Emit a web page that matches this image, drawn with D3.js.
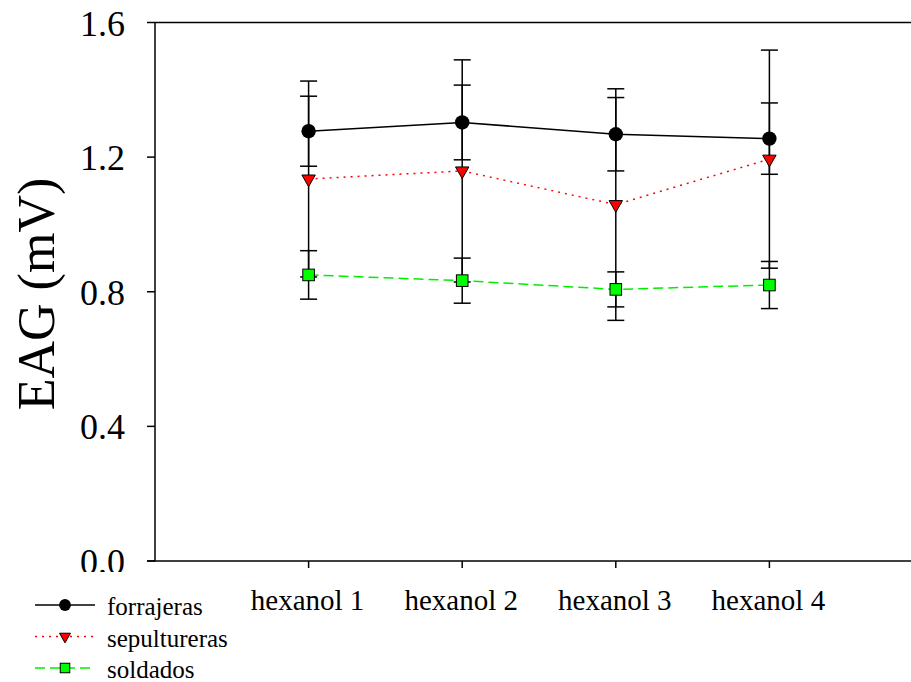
<!DOCTYPE html>
<html>
<head>
<meta charset="utf-8">
<script src="https://cdn.jsdelivr.net/npm/d3@7"></script>
<style>
  html, body { margin: 0; padding: 0; background: #fff; }
  svg { display: block; }
  svg text { font-family: "Liberation Serif", "Times New Roman", Times, Tinos, "DejaVu Serif", serif; }
</style>
</head>
<body>
<svg id="chart" width="911" height="682"></svg>
<script>
// Data
const categories = ["hexanol 1", "hexanol 2", "hexanol 3", "hexanol 4"];
const forrajeras = [1.277, 1.303, 1.268, 1.255];
const forrajerasErr = [0.104, 0.111, 0.109, 0.106];
const sepultureras = [1.135, 1.159, 1.059, 1.194];
const sepulturerasErr = [0.291, 0.330, 0.344, 0.324];
const soldados = [0.850, 0.833, 0.807, 0.820];
const soldadosErr = [0.072, 0.067, 0.052, 0.070];
const yTicks = [0.0, 0.4, 0.8, 1.2, 1.6];

const series = [
  { name: "forrajeras", values: forrajeras, err: forrajerasErr, color: "#000", dash: null, marker: "circle", fill: "#000" },
  { name: "sepultureras", values: sepultureras, err: sepulturerasErr, color: "#ff0000", dash: "2,5", marker: "triangle", fill: "#ff0000" },
  { name: "soldados", values: soldados, err: soldadosErr, color: "#00ee00", dash: "10,5", marker: "square", fill: "#00ff00" }
];

const svg = d3.select("#chart");
const plotLeft = 155, plotTop = 22.5, plotBottom = 561;

const x = d3.scaleLinear().domain([0, 5]).range([plotLeft, plotLeft + 5 * 153.6]);
const y = d3.scaleLinear().domain([0, 1.6]).range([plotBottom, plotTop]);

// clip for the y tick labels (0.0 is cut at the bottom)
svg.append("defs").append("clipPath").attr("id", "ylab-clip")
  .append("rect").attr("x", 0).attr("y", 0).attr("width", 155).attr("height", 572);

// top frame line
svg.append("line")
  .attr("x1", plotLeft).attr("x2", 911).attr("y1", plotTop).attr("y2", plotTop)
  .attr("stroke", "#000").attr("stroke-width", 1.5);

// y axis
const yAxis = svg.append("g");
yAxis.append("line")
  .attr("x1", plotLeft).attr("x2", plotLeft).attr("y1", plotTop).attr("y2", plotBottom)
  .attr("stroke", "#000").attr("stroke-width", 1.5);
yAxis.selectAll(".yt").data(yTicks).join("line")
  .attr("x1", plotLeft - 8).attr("x2", plotLeft)
  .attr("y1", d => y(d)).attr("y2", d => y(d))
  .attr("stroke", "#000").attr("stroke-width", 1.5);
yAxis.append("g").attr("clip-path", "url(#ylab-clip)")
  .selectAll("text").data(yTicks).join("text")
  .attr("x", 125).attr("y", d => y(d) + 13)
  .attr("text-anchor", "end")
  .attr("font-size", 36)
  .text(d => d.toFixed(1));

// x axis
svg.append("line")
  .attr("x1", plotLeft - 8).attr("x2", 911).attr("y1", plotBottom).attr("y2", plotBottom)
  .attr("stroke", "#000").attr("stroke-width", 1.5);
svg.selectAll(".xt").data(categories).join("line")
  .attr("x1", (d, i) => x(i + 1)).attr("x2", (d, i) => x(i + 1))
  .attr("y1", plotBottom).attr("y2", plotBottom + 7)
  .attr("stroke", "#000").attr("stroke-width", 1.5);
svg.selectAll(".xl").data(categories).join("text")
  .attr("x", (d, i) => x(i + 1) - 1).attr("y", 610)
  .attr("text-anchor", "middle")
  .attr("font-size", 29)
  .text(d => d);

// y title
svg.append("text")
  .attr("transform", "translate(54,294) rotate(-90)")
  .attr("text-anchor", "middle")
  .attr("font-size", 52)
  .text("EAG (mV)");

// markers
function drawMarker(sel, type, fill, s) {
  if (type === "circle") {
    sel.append("circle").attr("r", 7.2 * s).attr("fill", "#000");
  } else if (type === "triangle") {
    const w = 6.7 * s;
    sel.append("path")
      .attr("d", `M${-w},${-4 * s}L${w},${-4 * s}L0,${7.7 * s}Z`)
      .attr("fill", fill).attr("stroke", "#000").attr("stroke-width", 1);
  } else {
    const h = 5.8 * s;
    sel.append("rect").attr("x", -h).attr("y", -h).attr("width", 2 * h).attr("height", 2 * h)
      .attr("fill", fill).attr("stroke", "#000").attr("stroke-width", 1);
  }
}

// error bars
series.forEach(s => {
  const g = svg.append("g");
  s.values.forEach((v, i) => {
    const cx = x(i + 1);
    const hi = y(v + s.err[i]), lo = y(v - s.err[i]);
    g.append("line").attr("x1", cx).attr("x2", cx).attr("y1", hi).attr("y2", lo)
      .attr("stroke", "#000").attr("stroke-width", 1.5);
    [hi, lo].forEach(yy => {
      g.append("line").attr("x1", cx - 8.5).attr("x2", cx + 8.5).attr("y1", yy).attr("y2", yy)
        .attr("stroke", "#000").attr("stroke-width", 1.5);
    });
  });
});

// lines
const line = d3.line().x((d, i) => x(i + 1)).y(d => y(d));
series.forEach(s => {
  svg.append("path").datum(s.values)
    .attr("d", line)
    .attr("fill", "none").attr("stroke", s.color).attr("stroke-width", 1.5)
    .attr("stroke-dasharray", s.dash);
});

// points
series.forEach(s => {
  s.values.forEach((v, i) => {
    const m = svg.append("g").attr("transform", `translate(${x(i + 1)},${y(v)})`);
    drawMarker(m, s.marker, s.fill, 1);
  });
});

// legend
const legend = svg.append("g");
series.forEach((s, i) => {
  const ly = 605 + i * 31.5;
  legend.append("line").attr("x1", 35).attr("x2", 95).attr("y1", ly).attr("y2", ly)
    .attr("stroke", s.color).attr("stroke-width", 1.5).attr("stroke-dasharray", s.dash);
  const m = legend.append("g").attr("transform", `translate(65,${ly})`);
  drawMarker(m, s.marker, s.fill, 0.82);
  legend.append("text").attr("x", 107).attr("y", ly + 10)
    .attr("font-size", 25)
    .text(s.name);
});
</script>
</body>
</html>
